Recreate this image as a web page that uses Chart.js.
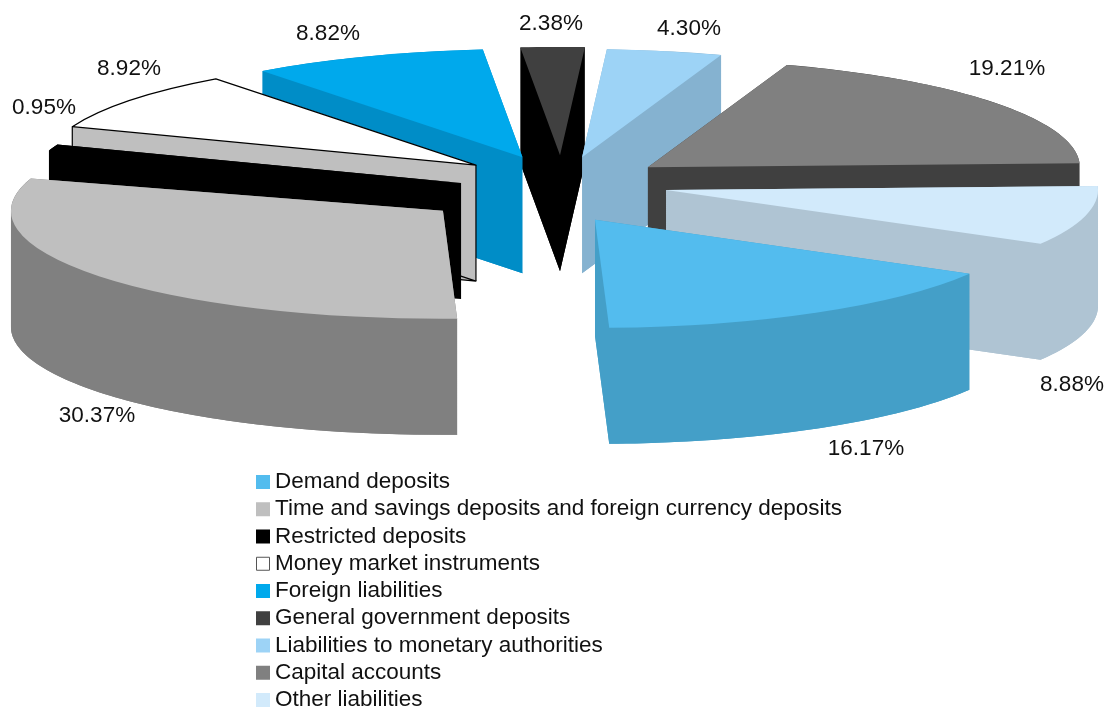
<!DOCTYPE html>
<html>
<head>
<meta charset="utf-8">
<title>Liabilities</title>
<script src="https://cdn.jsdelivr.net/npm/chart.js@4"></script>
<style>
    html, body { margin: 0; padding: 0; background: #fff; }
    canvas { display: block; }
</style>
</head>
<body>
<canvas id="chartPie" width="1109" height="710"></canvas>
<script>
// Datos
const categories = [
    'Demand deposits',
    'Time and savings deposits and foreign currency deposits',
    'Restricted deposits',
    'Money market instruments',
    'Foreign liabilities',
    'General government deposits',
    'Liabilities to monetary authorities',
    'Capital accounts',
    'Other liabilities'
];
const shares = [16.17, 30.37, 0.95, 8.92, 8.82, 2.38, 4.30, 19.21, 8.88];

// Colores
const topColors = ['#53bcee', '#bfbfbf', '#000000', '#ffffff', '#00a9ec', '#404040', '#9dd3f6', '#808080', '#d2eafb'];
const wallColors = ['#449fc8', '#808080', '#000000', '#bfbfbf', '#008dc7', '#000000', '#85b2d0', '#404040', '#afc4d3'];
const outlined = ['Money market instruments'];

// How far each slice is pulled out of the pie, and how much that pull is turned
const explode = [135.5, 152.6, 102.2, 122.8, 125.8, 127.4, 121, 117, 104.7];
const explodeTurn = [16.9, -1.5, -10.1, 8.6, 2.85, 0.1, -1.5, -6.15, -7.4];

// Percent labels
const labelX = [866, 97, 44, 129, 328, 551, 689, 1007, 1072];
const labelY = [449, 416, 108, 69, 34, 24, 29, 69, 385];

const pieCenter = { x: 562, y: 187 };
const tilt = 0.25;
const depth = 116;
const FONT = '22.5px "Liberation Sans", Arial, sans-serif';

class Pie3DController extends Chart.PieController {
    // screen position of a slice's tip
    tipOf(arc, i) {
        const mid = (arc.startAngle + arc.endAngle) / 2 + explodeTurn[i] * Math.PI / 180;
        return {
            x: pieCenter.x + Math.cos(mid) * explode[i],
            y: pieCenter.y + Math.sin(mid) * explode[i] * tilt
        };
    }

    rim(arc, tip, angle) {
        return {
            x: tip.x + Math.cos(angle) * arc.outerRadius,
            y: tip.y + Math.sin(angle) * arc.outerRadius * tilt
        };
    }

    paint(ctx, arc, x, y, color) {
        const saved = arc.options;
        arc.options = { ...saved, backgroundColor: color, borderWidth: 0 };
        ctx.save();
        ctx.translate(x, y);
        ctx.scale(1, tilt);
        ctx.translate(-arc.x, -arc.y);
        arc.draw(ctx);
        ctx.restore();
        arc.options = saved;
    }

    // adds a vertical wall to the current path, always wound the same way
    wallFace(ctx, p, q) {
        const a = p.x < q.x ? p : q;
        const b = p.x < q.x ? q : p;
        ctx.moveTo(a.x, a.y);
        ctx.lineTo(b.x, b.y);
        ctx.lineTo(b.x, b.y + depth);
        ctx.lineTo(a.x, a.y + depth);
        ctx.closePath();
    }

    drawWalls(ctx, arc, tip, color) {
        this.paint(ctx, arc, tip.x, tip.y + depth, color);

        ctx.beginPath();
        // cut faces
        this.wallFace(ctx, tip, this.rim(arc, tip, arc.startAngle));
        this.wallFace(ctx, tip, this.rim(arc, tip, arc.endAngle));

        // outer band, one narrow face per step so it can pass the pie's left and right ends
        const steps = Math.ceil((arc.endAngle - arc.startAngle) / 0.02);
        const sweep = (arc.endAngle - arc.startAngle) / steps;
        for (let s = 0; s < steps; s++) {
            const from = this.rim(arc, tip, arc.startAngle + s * sweep);
            const to = this.rim(arc, tip, arc.startAngle + (s + 1) * sweep);
            this.wallFace(ctx, from, to);
        }
        ctx.fillStyle = color;
        ctx.fill();
    }

    outline(ctx, arc, x, y) {
        ctx.beginPath();
        ctx.moveTo(x, y);
        ctx.save();
        ctx.translate(x, y);
        ctx.scale(1, tilt);
        ctx.arc(0, 0, arc.outerRadius, arc.startAngle, arc.endAngle);
        ctx.restore();
        ctx.closePath();
        ctx.stroke();
    }

    draw() {
        const ctx = this.chart.ctx;
        const arcs = this.getMeta().data;
        const order = arcs.map((arc, i) => i)
            .sort((a, b) => this.tipOf(arcs[a], a).y - this.tipOf(arcs[b], b).y);

        order.forEach(i => {
            const arc = arcs[i];
            const tip = this.tipOf(arc, i);
            const hasLine = outlined.includes(categories[i]);

            this.drawWalls(ctx, arc, tip, wallColors[i]);
            ctx.strokeStyle = '#000';
            ctx.lineWidth = 1.2;
            ctx.lineJoin = 'round';
            if (hasLine) {
                this.outline(ctx, arc, tip.x, tip.y + depth);
                // aristas verticales
                [tip, this.rim(arc, tip, arc.startAngle)].forEach(p => {
                    ctx.beginPath();
                    ctx.moveTo(p.x, p.y);
                    ctx.lineTo(p.x, p.y + depth);
                    ctx.stroke();
                });
            }
            this.paint(ctx, arc, tip.x, tip.y, topColors[i]);
            if (hasLine) {
                this.outline(ctx, arc, tip.x, tip.y);
            }
        });
    }
}
Pie3DController.id = 'pie3d';
Chart.register(Pie3DController);

const textPlugin = {
    id: 'textPlugin',
    afterDraw(chart) {
        const ctx = chart.ctx;
        ctx.save();
        ctx.font = FONT;
        ctx.fillStyle = '#111';
        ctx.textBaseline = 'middle';

        // percent labels
        ctx.textAlign = 'center';
        shares.forEach((value, i) => {
            ctx.fillText(value.toFixed(2) + '%', labelX[i], labelY[i]);
        });

        // leyenda
        ctx.textAlign = 'left';
        categories.forEach((name, i) => {
            const y = 482 + i * 27.25;
            ctx.fillStyle = topColors[i];
            ctx.fillRect(256, y - 7, 14, 14);
            if (outlined.includes(name)) {
                ctx.strokeStyle = '#555';
                ctx.lineWidth = 1;
                ctx.strokeRect(256.5, y - 6.5, 13, 13);
            }
            ctx.fillStyle = '#111';
            ctx.fillText(name, 275, y);
        });
        ctx.restore();
    }
};

new Chart(document.getElementById('chartPie'), {
    type: 'pie3d',
    data: {
        labels: categories,
        datasets: [{
            data: shares,
            backgroundColor: topColors,
            borderWidth: 0,
            clip: false
        }]
    },
    options: {
        responsive: false,
        animation: false,
        rotation: 119.9,
        radius: 432,
        plugins: {
            legend: { display: false },
            tooltip: { enabled: false }
        }
    },
    plugins: [textPlugin]
});
</script>
</body>
</html>
